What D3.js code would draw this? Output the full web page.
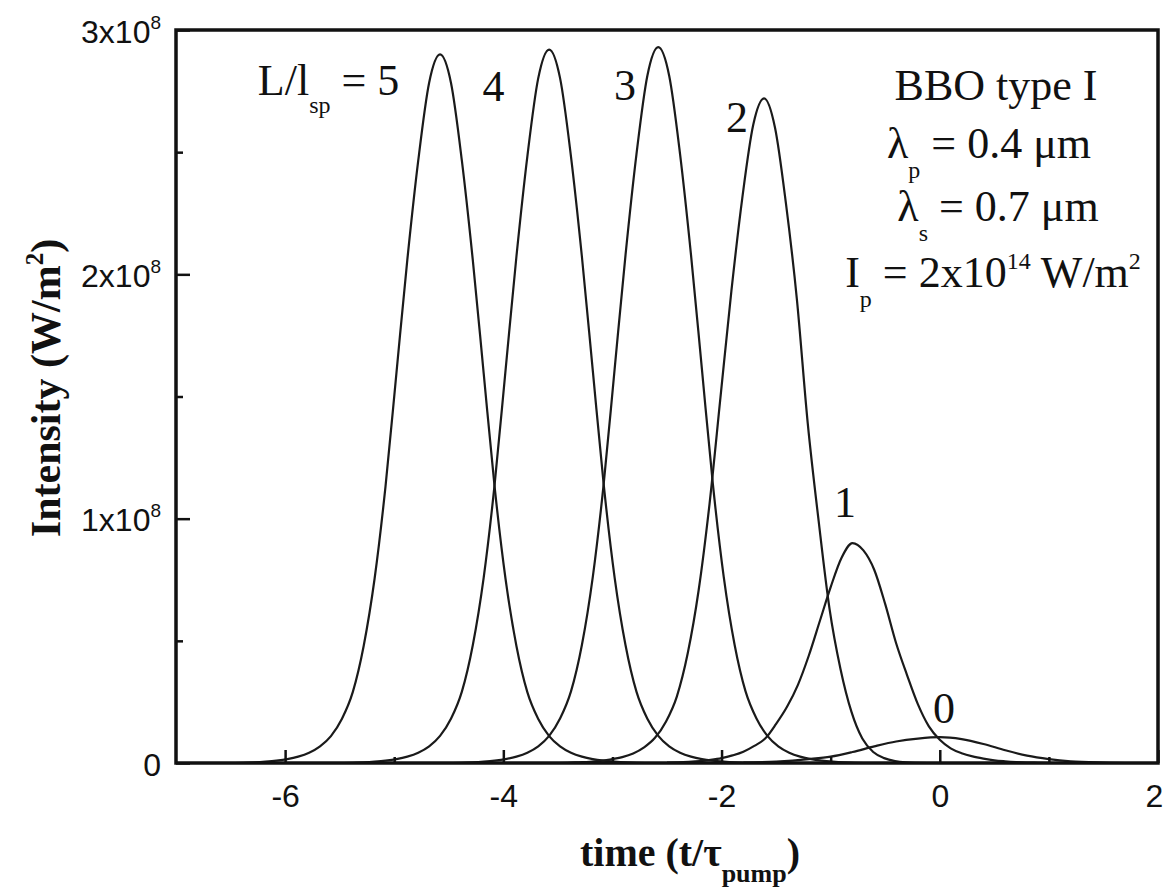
<!DOCTYPE html>
<html><head><meta charset="utf-8">
<script src="https://cdn.jsdelivr.net/npm/d3@7"></script>
<style>
body{margin:0;background:#fff;}
svg{display:block;}
</style></head><body>
<svg id="chart" width="1167" height="889"></svg>
<script>
// ---------- data (intensity in units of 1e8 W/m^2, time in t/tau_pump) ----------
const xMajorTicks = [-6, -4, -2, 0, 2];
const xMinorTicks = [-5, -3, -1, 1];
const yMajorTicks = [0, 1, 2, 3];
const yMinorTicks = [0.5, 1.5, 2.5];
const yTickLabels = ["0", "1x10", "2x10", "3x10"];
const yTickExponent = "8";

const t5 = [-6.58,-6.38,-6.28,-6.18,-6.08,-5.98,-5.88,-5.78,-5.68,-5.58,-5.48,-5.38,-5.28,-5.18,-5.08,-4.98,-4.88,-4.78,-4.68,-4.58,
            -4.48,-4.38,-4.28,-4.18,-4.08,-3.98,-3.88,-3.78,-3.68,-3.58,-3.48,-3.38,-3.28,-3.18,-3.08,-2.98,-2.88,-2.78,-2.58];
const i5 = [0,0.001,0.003,0.006,0.01,0.016,0.026,0.042,0.068,0.11,0.18,0.29,0.479,0.754,1.131,1.595,2.059,2.465,2.784,2.90,
            2.784,2.465,2.059,1.595,1.131,0.754,0.479,0.29,0.18,0.11,0.068,0.042,0.026,0.016,0.01,0.006,0.003,0.001,0];

const t4 = [-5.58,-5.38,-5.28,-5.18,-5.08,-4.98,-4.88,-4.78,-4.68,-4.58,-4.48,-4.38,-4.28,-4.18,-4.08,-3.98,-3.88,-3.78,-3.68,-3.58,
            -3.48,-3.38,-3.28,-3.18,-3.08,-2.98,-2.88,-2.78,-2.68,-2.58,-2.48,-2.38,-2.28,-2.18,-2.08,-1.98,-1.88,-1.78,-1.58];
const i4 = [0,0.001,0.003,0.006,0.01,0.016,0.026,0.042,0.068,0.111,0.181,0.292,0.482,0.759,1.139,1.606,2.073,2.482,2.803,2.92,
            2.803,2.482,2.073,1.606,1.139,0.759,0.482,0.292,0.181,0.111,0.068,0.042,0.026,0.016,0.01,0.006,0.003,0.001,0];

const t3 = [-4.58,-4.38,-4.28,-4.18,-4.08,-3.98,-3.88,-3.78,-3.68,-3.58,-3.48,-3.38,-3.28,-3.18,-3.08,-2.98,-2.88,-2.78,-2.68,-2.58,
            -2.48,-2.38,-2.28,-2.18,-2.08,-1.98,-1.88,-1.78,-1.68,-1.58,-1.48,-1.38,-1.28,-1.18,-1.08,-0.98,-0.88,-0.78,-0.58];
const i3 = [0,0.001,0.003,0.006,0.01,0.016,0.026,0.042,0.068,0.111,0.182,0.293,0.483,0.762,1.143,1.612,2.080,2.491,2.813,2.93,
            2.813,2.491,2.080,1.612,1.143,0.762,0.483,0.293,0.182,0.111,0.068,0.042,0.026,0.016,0.01,0.006,0.003,0.001,0];

const t2 = [-3.61,-3.41,-3.31,-3.21,-3.11,-3.01,-2.91,-2.81,-2.71,-2.61,-2.51,-2.41,-2.31,-2.21,-2.11,-2.01,-1.91,-1.81,-1.71,-1.61,
            -1.51,-1.41,-1.31,-1.21,-1.11,-1.01,-0.91,-0.81,-0.71,-0.61,-0.51,-0.41,-0.31,-0.11];
const i2 = [0,0.001,0.003,0.005,0.009,0.015,0.024,0.039,0.064,0.103,0.169,0.272,0.449,0.707,1.061,1.496,1.931,2.312,2.611,2.72,
            2.60,2.29,1.90,1.39,0.99,0.63,0.385,0.21,0.10,0.045,0.02,0.008,0.003,0];

const t1 = [-2.5,-2.4,-2.3,-2.2,-2.1,-2.0,-1.9,-1.8,-1.7,-1.6,-1.5,-1.4,-1.3,-1.2,-1.1,-1.0,-0.9,-0.8,-0.7,-0.6,
            -0.5,-0.4,-0.3,-0.2,-0.1,0,0.1,0.2,0.3,0.4,0.5,0.6,0.7,0.8,0.9,1.0];
const i1 = [0.002,0.003,0.005,0.008,0.013,0.02,0.031,0.046,0.07,0.10,0.16,0.23,0.32,0.44,0.58,0.72,0.84,0.90,0.87,0.79,
            0.65,0.49,0.36,0.24,0.15,0.095,0.06,0.04,0.027,0.018,0.011,0.007,0.004,0.002,0.001,0];

const t0 = [-1.8,-1.5,-1.2,-1.0,-0.8,-0.6,-0.4,-0.2,0,0.2,0.4,0.6,0.8,1.0,1.2,1.5,1.8];
const i0 = [0.002,0.006,0.016,0.026,0.045,0.068,0.088,0.10,0.106,0.098,0.078,0.052,0.03,0.016,0.007,0.002,0];

const curveLabels = ["4", "3", "2", "1", "0"];
const curveLabelT = [-4.09, -2.885, -1.858, -0.868, 0.039];
const curveLabelI = [2.71, 2.714, 2.583, 1.007, 0.164];

// ---------- layout ----------
const svg = d3.select("#chart");
const x = d3.scaleLinear().domain([-7, 2]).range([176, 1158]);
const y = d3.scaleLinear().domain([0, 3]).range([763, 30]);
const serif = "'Liberation Serif', 'Times New Roman', serif";
const sans = "'Liberation Sans', Arial, sans-serif";
const ink = "#111";

svg.append("clipPath").attr("id", "plotclip").append("rect")
  .attr("x", x(-7)).attr("y", y(3)).attr("width", x(2) - x(-7)).attr("height", y(0) - y(3));

// curves
const series = [[t5, i5], [t4, i4], [t3, i3], [t2, i2], [t1, i1], [t0, i0]];
const line = d3.line().x(d => x(d[0])).y(d => y(d[1])).curve(d3.curveMonotoneX);
svg.append("g").attr("clip-path", "url(#plotclip)")
  .selectAll("path").data(series).join("path")
  .attr("d", s => line(s[0].map((t, k) => [t, s[1][k]])))
  .attr("fill", "none").attr("stroke", "#1a1a1a").attr("stroke-width", 2.2);

// axes
const xAxis = svg.append("g").attr("transform", `translate(0,${y(0)})`)
  .call(d3.axisBottom(x).tickValues(xMajorTicks).tickSize(-13).tickPadding(21).tickFormat(d3.format("d")));
const xMinor = svg.append("g").attr("transform", `translate(0,${y(0)})`)
  .call(d3.axisBottom(x).tickValues(xMinorTicks).tickSize(-6).tickFormat(""));
const yAxis = svg.append("g").attr("transform", `translate(${x(-7)},0)`)
  .call(d3.axisLeft(y).tickValues(yMajorTicks).tickSize(-14).tickPadding(15).tickFormat(() => ""));
const yMinor = svg.append("g").attr("transform", `translate(${x(-7)},0)`)
  .call(d3.axisLeft(y).tickValues(yMinorTicks).tickSize(-7).tickFormat(""));

[xAxis, xMinor, yAxis, yMinor].forEach(g => {
  g.select(".domain").remove();
  g.selectAll(".tick line").attr("stroke", ink).attr("stroke-width", 2.5);
});
xAxis.selectAll(".tick text").attr("font-family", sans).attr("font-size", 32).attr("fill", ink)
  .text(d => d < 0 ? "-" + Math.abs(d) : String(d));
xAxis.selectAll(".tick").filter(d => d === 2).select("text").attr("dx", -4);

yAxis.selectAll(".tick text").attr("font-family", sans).attr("font-size", 32).attr("fill", ink)
  .attr("dy", "0.38em")
  .each(function(d, i) {
    const el = d3.select(this);
    el.text(null);
    el.append("tspan").text(yTickLabels[i]);
    if (d !== 0) el.append("tspan").attr("font-size", 19).attr("dy", -14).text(yTickExponent);
  });

// frame
svg.append("rect")
  .attr("x", x(-7)).attr("y", y(3)).attr("width", x(2) - x(-7)).attr("height", y(0) - y(3))
  .attr("fill", "none").attr("stroke", ink).attr("stroke-width", 3.5);

// axis titles
const xt = svg.append("text").attr("x", 690).attr("y", 866).attr("text-anchor", "middle")
  .attr("font-family", serif).attr("font-weight", "bold").attr("font-size", 40).attr("fill", ink);
xt.append("tspan").text("time (t/τ");
xt.append("tspan").attr("font-size", 26).attr("dy", 16).text("pump");
xt.append("tspan").attr("dy", -16).text(")");

const yt = svg.append("text").attr("transform", "translate(60,388) rotate(-90)").attr("text-anchor", "middle")
  .attr("font-family", serif).attr("font-weight", "bold").attr("font-size", 42).attr("fill", ink);
yt.append("tspan").text("Intensity (W/m");
yt.append("tspan").attr("font-size", 25).attr("dy", -17).text("2");
yt.append("tspan").attr("dy", 17).text(")");

// curve labels
svg.append("g").selectAll("text").data(curveLabels).join("text")
  .attr("x", (d, i) => x(curveLabelT[i])).attr("y", (d, i) => y(curveLabelI[i]))
  .attr("text-anchor", "middle").attr("font-family", serif).attr("font-size", 44).attr("fill", ink)
  .text(d => d);

const lab5 = svg.append("text").attr("x", x(-6.25)).attr("y", y(2.734))
  .attr("font-family", serif).attr("font-size", 44).attr("fill", ink);
lab5.append("tspan").text("L/l");
lab5.append("tspan").attr("font-size", 24).attr("dy", 18).text("sp");
lab5.append("tspan").attr("dy", -18).text(" = 5");

// parameter block
function block(xc, yb, parts) {
  const t = svg.append("text").attr("x", xc).attr("y", yb).attr("text-anchor", "middle")
    .attr("font-family", serif).attr("font-size", 44).attr("fill", ink);
  parts.forEach(p => {
    const s = t.append("tspan").text(p.s);
    if (p.sub) s.attr("font-size", 24).attr("dy", p.dy);
    if (p.back) s.attr("dy", p.back);
    if (p.fs) s.attr("font-size", p.fs).attr("dy", p.dy);
  });
}
block(996, 100, [{s: "BBO type I"}]);
block(989, 158, [{s: "λ"}, {s: "p", sub: true, dy: 20}, {s: " = 0.4 μm", back: -20}]);
block(998, 221, [{s: "λ"}, {s: "s", sub: true, dy: 20}, {s: " = 0.7 μm", back: -20}]);
block(993, 287, [{s: "I"}, {s: "p", sub: true, dy: 20}, {s: " = 2x10", back: -20}, {s: "14", fs: 24, dy: -18}, {s: " W/m", back: 18}, {s: "2", fs: 24, dy: -18}]);
</script>
</body></html>
